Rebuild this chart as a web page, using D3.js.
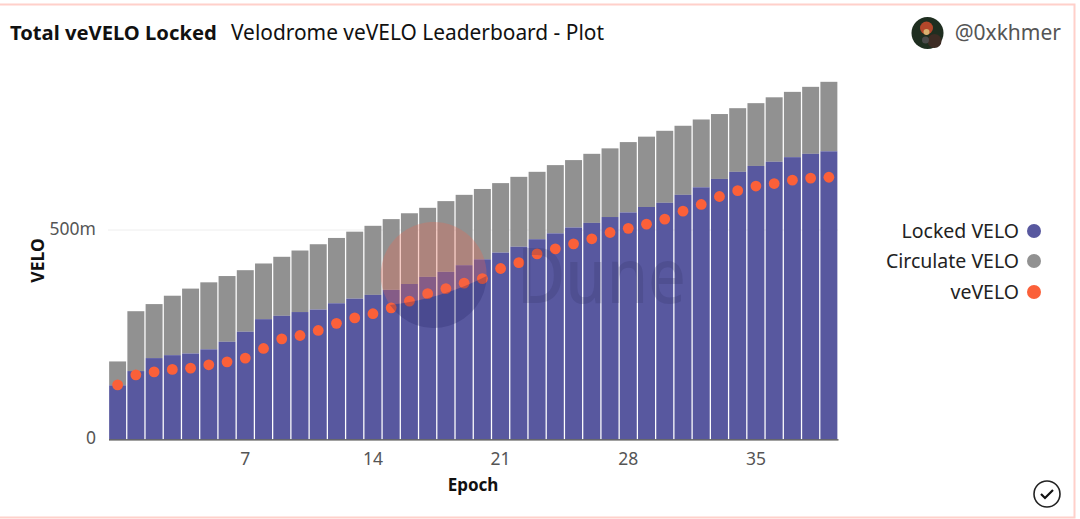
<!DOCTYPE html>
<html><head><meta charset="utf-8">
<script src="https://cdnjs.cloudflare.com/ajax/libs/d3/7.8.5/d3.min.js"></script>
<style>html,body{margin:0;padding:0;background:#fff}svg{display:block;font-family:"Noto Sans",sans-serif}</style>
</head><body><svg id="c" width="1080" height="519"></svg>
<script>
const epochs = d3.range(0, 40);
const locked = [129,163,194,201,205,215,233,257,287,295,304,310,325,336,345,357,371,388,400,416,430,446,460,478,492,506,517,531,542,555,565,584,602,622,639,653,663,674,682,688];
const circulate = [57,143,129,142,155,160,157,147,133,141,147,156,156,160,165,169,169,165,169,168,168,166,167,161,163,161,165,164,168,168,172,165,162,155,152,150,154,156,160,166];
const vevelo = [130,154,161,167,170,178,185,194,217,240,248,260,277,290,300,314,330,348,360,373,384,408,422,443,455,467,479,494,504,514,526,545,561,580,594,605,611,619,624,626];
const xTickValues = [7,14,21,28,35];
const yTickValues = [0,500];
const legendNames = ["Locked VELO","Circulate VELO","veVELO"];
const legendColors = ["#58589f","#919191","#fb6039"];

const svg = d3.select("#c");
// frame
svg.append("path").attr("d","M0,4.5H1074.5V517.5H0").attr("fill","none").attr("stroke","#ffd0ca").attr("stroke-width",2);

const x = d3.scaleBand().domain(epochs).range([108.5,838]).paddingInner(0.07).paddingOuter(0.035);
const y = d3.scaleLinear().domain([0,500]).range([439.3,230]);

// gridline
svg.append("line").attr("x1",108).attr("x2",838).attr("y1",y(500)).attr("y2",y(500)).attr("stroke","#eeeeee");

// bars
svg.append("g").selectAll("rect").data(epochs).join("rect")
  .attr("x",d=>x(d)).attr("width",x.bandwidth())
  .attr("y",d=>y(locked[d]+circulate[d])).attr("height",d=>y(locked[d])-y(locked[d]+circulate[d]))
  .attr("fill",legendColors[1]);
svg.append("g").selectAll("rect").data(epochs).join("rect")
  .attr("x",d=>x(d)).attr("width",x.bandwidth())
  .attr("y",d=>y(locked[d])).attr("height",d=>y(0)-y(locked[d]))
  .attr("fill",legendColors[0]);

// dots
svg.append("g").selectAll("circle").data(epochs).join("circle")
  .attr("cx",d=>x(d)+x.bandwidth()/2).attr("cy",d=>y(vevelo[d])).attr("r",5.4).attr("fill",legendColors[2]);

// watermark
const wm = svg.append("g");
wm.append("path").attr("d","M486.7,276A53,53 0 1 0 390,305Q442,299 486.7,276Z").attr("fill","#f0664f").attr("opacity",0.3);
wm.append("path").attr("d","M486.7,276A53,53 0 0 1 390,305Q442,299 486.7,276Z").attr("fill","#2c2c6e").attr("opacity",0.3);
wm.append("text").attr("x",517).attr("y",302.5).attr("font-size",76).attr("font-weight",500)
  .attr("textLength",169).attr("lengthAdjust","spacingAndGlyphs")
  .attr("fill","#2c2c5e").attr("opacity",0.2).text("Dune");

// axes
const xAxis = d3.axisBottom(x).tickValues(xTickValues).tickSize(0).tickPadding(13);
const gx = svg.append("g").attr("transform",`translate(0,${y(0)})`).call(xAxis).attr("font-family",null);
gx.select(".domain").attr("stroke","#444").attr("stroke-width",1.2);
gx.selectAll("text").attr("font-size",17.5).attr("fill","#555");
const yAxis = d3.axisLeft(y).tickValues(yTickValues).tickSize(0).tickPadding(12).tickFormat(d=>d===0?"0":d+"m");
const gy = svg.append("g").attr("transform","translate(108,0)").call(yAxis).attr("font-family",null);
gy.select(".domain").remove();
gy.selectAll("text").attr("font-size",17.5).attr("fill","#555").attr("dy","0.25em");

// axis titles
svg.append("text").attr("x",473).attr("y",491).attr("text-anchor","middle").attr("font-size",17).attr("font-weight",700).attr("fill","#111").text("Epoch");
svg.append("text").attr("transform","translate(44,260.5) rotate(-90)").attr("text-anchor","middle").attr("font-size",17.5).attr("font-weight",700).attr("fill","#111").text("VELO");

// title
svg.append("text").attr("x",10).attr("y",40).attr("font-size",20.2).attr("font-weight",700).attr("fill","#111").text("Total veVELO Locked");
svg.append("text").attr("x",231).attr("y",40).attr("font-size",20.9).attr("fill","#111").text("Velodrome veVELO Leaderboard - Plot");
svg.append("text").attr("x",1061).attr("y",40).attr("text-anchor","end").attr("font-size",21).attr("fill","#555").text("@0xkhmer");

// avatar
const av = svg.append("g").attr("transform","translate(927.5,33)");
av.append("circle").attr("r",16).attr("fill","#1f2e20");
av.append("circle").attr("cx",7).attr("cy",8).attr("r",7).attr("fill","#3d2c24");
av.append("circle").attr("cx",-1).attr("cy",-5).attr("r",6.5).attr("fill","#b5472a");
av.append("circle").attr("cx",-1).attr("cy",-1).attr("r",3).attr("fill","#d9b070");
av.append("circle").attr("cx",-2).attr("cy",7).attr("r",3.5).attr("fill","#4a4a4a");

// legend
const ly = [231,261,292];
legendNames.forEach((n,i)=>{
  svg.append("text").attr("x",1019).attr("y",ly[i]+6.5).attr("text-anchor","end").attr("font-size",19.5).attr("fill","#222").text(n);
  svg.append("circle").attr("cx",1034).attr("cy",ly[i]).attr("r",7).attr("fill",legendColors[i]);
});

// check icon
const ck = svg.append("g").attr("transform","translate(1047,494)");
ck.append("circle").attr("r",13).attr("fill","none").attr("stroke","#222").attr("stroke-width",1.6);
ck.append("path").attr("d","M-6,0L-2,4L6,-4").attr("fill","none").attr("stroke","#111").attr("stroke-width",2.2);
</script></body></html>
